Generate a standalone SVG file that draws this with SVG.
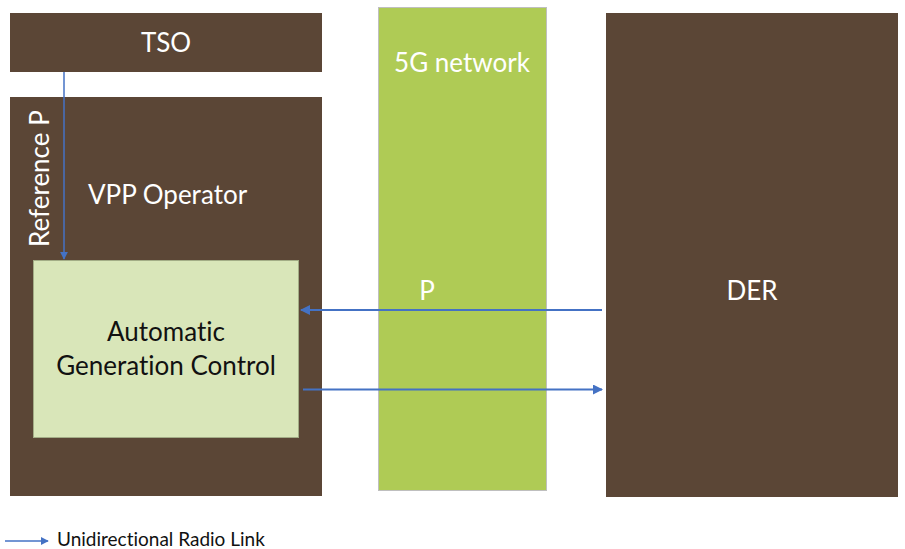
<svg xmlns="http://www.w3.org/2000/svg" width="905" height="549" viewBox="0 0 905 549">
  <style>
    text { font-variant-ligatures: none; }
    .brown { fill: #5b4636; }
    .net { fill: #afcb55; stroke: #bfbfbf; stroke-width: 1; }
    .agc { fill: #d9e6b9; stroke: #a3ad86; stroke-width: 1; }
    .lbl { font-family: Lato, "Open Sans", "Liberation Sans", sans-serif; font-size: 26px; fill: #ffffff; }
    .dark { fill: #111111; }
    .link { stroke: #4472c4; stroke-width: 1.5; fill: none; marker-end: url(#arrow); }
    .wide { stroke-width: 2; marker-end: url(#arrowBig); }
    .legend { font-family: Lato, "Open Sans", "Liberation Sans", sans-serif; font-size: 19px; fill: #111111; }
  </style>
  <defs>
    <marker id="arrow" viewBox="0 0 10 10" refX="9" refY="5" markerWidth="8" markerHeight="8" orient="auto" markerUnits="userSpaceOnUse">
      <path d="M0,0 L10,5 L0,10 z" fill="#4472c4"/>
    </marker>
    <marker id="arrowBig" viewBox="0 0 10 10" refX="9" refY="5" markerWidth="10" markerHeight="10" orient="auto" markerUnits="userSpaceOnUse">
      <path d="M0,0 L10,5 L0,10 z" fill="#4472c4"/>
    </marker>
  </defs>
  <rect width="905" height="549" fill="#ffffff"/>

  <g id="tso">
    <rect class="brown" x="10" y="13" width="312" height="59"/>
    <text class="lbl" x="166" y="52" text-anchor="middle">TSO</text>
  </g>

  <g id="vpp">
    <rect class="brown" x="10" y="97" width="312" height="399"/>
    <text class="lbl" x="88" y="204">VPP Operator</text>
    <text class="lbl" transform="translate(49,247) rotate(-90)">Reference P</text>
  </g>

  <g id="agc">
    <rect class="agc" x="33.5" y="260.5" width="265" height="177"/>
    <text class="lbl dark" x="166" y="341" text-anchor="middle">Automatic</text>
    <text class="lbl dark" x="166" y="375" text-anchor="middle">Generation Control</text>
  </g>

  <g id="network">
    <rect class="net" x="378.5" y="7.5" width="168" height="483"/>
    <text class="lbl" x="462" y="72" text-anchor="middle">5G network</text>
    <text class="lbl" x="427" y="300" text-anchor="middle">P</text>
  </g>

  <g id="der">
    <rect class="brown" x="606" y="13" width="292" height="484"/>
    <text class="lbl" x="752" y="300" text-anchor="middle">DER</text>
  </g>

  <g id="connectors">
    <line class="link" x1="64" y1="72" x2="64" y2="259"/>
    <line class="link wide" x1="602" y1="310" x2="301" y2="310"/>
    <line class="link wide" x1="303" y1="389.5" x2="602" y2="389.5"/>
  </g>

  <g id="legend">
    <line class="link" x1="5" y1="541" x2="48" y2="541"/>
    <text class="legend" x="57" y="546">Unidirectional Radio Link</text>
  </g>
</svg>
